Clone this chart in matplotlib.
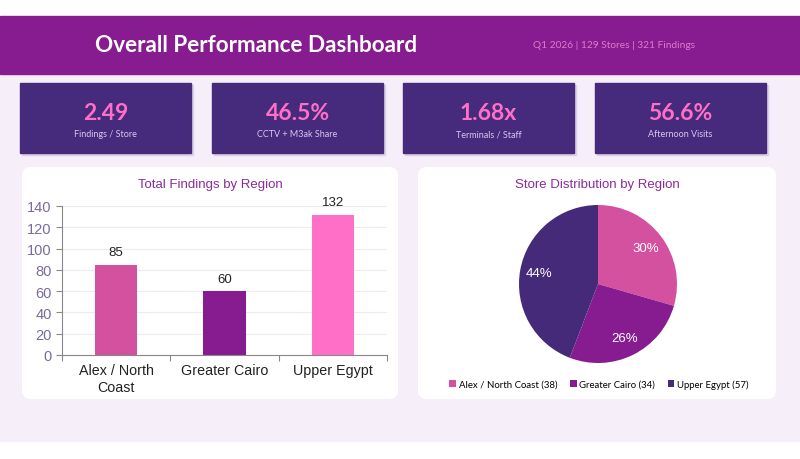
import matplotlib.pyplot as plt
from matplotlib.patches import FancyBboxPatch, Rectangle

regions = ['Alex / North\nCoast', 'Greater Cairo', 'Upper Egypt']
findings = [85, 60, 132]
pie_regions = ['Alex / North Coast', 'Greater Cairo', 'Upper Egypt']
stores = [38, 34, 57]
pie_pct_labels = ['30%', '26%', '44%']
kpi_values = ['2.49', '46.5%', '1.68x', '56.6%']
kpi_labels = ['Findings / Store', 'CCTV + M3ak Share', 'Terminals / Staff', 'Afternoon Visits']

region_colors = ['#d4519f', '#861c8f', '#ff6ec7']
pie_colors = ['#d4519f', '#861c8f', '#452a7a']

W, H = 800, 460
fig = plt.figure(figsize=(8, 4.6), dpi=100)
fig.patch.set_facecolor('white')

# background canvas in pixel coordinates
bg = fig.add_axes([0, 0, 1, 1])
bg.set_xlim(0, W)
bg.set_ylim(H, 0)
bg.axis('off')

bg.add_patch(Rectangle((0, 75), W, 367, color='#f6eef9', zorder=0))
bg.add_patch(Rectangle((0, 17), W, 58, color='#861c8f', zorder=1))
bg.text(256, 46, 'Overall Performance Dashboard', color='white', fontsize=16.2,
        fontweight='bold', family='Lato', ha='center', va='center')
bg.text(614, 46, 'Q1 2026 | 129 Stores | 321 Findings', color='#e07acb',
        fontsize=7.3, family='Lato', ha='center', va='center')

card_x = [20, 212, 403, 595]
for x, val, lab in zip(card_x, kpi_values, kpi_labels):
    bg.add_patch(Rectangle((x + 2, 86), 171, 70, color='#dccfe6', zorder=1))
    bg.add_patch(Rectangle((x, 84), 171, 70, color='#462a7b', zorder=2))
    bg.text(x + 85.5, 114, val, color='#ff6ec7', fontsize=16.5, fontweight='bold',
            family='Lato', ha='center', va='center', zorder=3)
    bg.text(x + 85.5, 135, lab, color='#d6c6f2', fontsize=6.5,
            family='Lato', ha='center', va='center', zorder=3)

for x0, w in [(22, 376), (418, 358)]:
    bg.add_patch(FancyBboxPatch((x0, 168), w, 232, boxstyle='round,pad=0,rounding_size=9',
                                fc='white', ec='none', zorder=1))

# bar chart
ax = fig.add_axes([62 / W, (H - 356) / H, 325 / W, 149 / H])
ax.bar(range(len(regions)), findings, width=0.39, color=region_colors, zorder=2)
for i, v in enumerate(findings):
    ax.text(i, v + 6, str(v), ha='center', va='bottom', fontsize=9.5,
            color='#222222', family='Liberation Sans')
ax.set_xlim(-0.5, 2.5)
ax.set_ylim(0, 140)
ax.set_yticks(range(0, 141, 20))
ax.set_xticks([-0.5, 0.5, 1.5, 2.5], minor=False)
ax.set_xticklabels([])
ax.set_xticks(range(3), minor=True)
ax.set_xticklabels(regions, minor=True, fontsize=10.3, color='#222222', family='Liberation Sans')
ax.tick_params(axis='x', which='minor', length=0, pad=6)
ax.tick_params(axis='x', which='major', length=4, color='#888888')
ax.tick_params(axis='y', labelsize=10.5, labelcolor='#7a6b98', length=4, color='#888888')
for t in ax.get_yticklabels():
    t.set_family('Liberation Sans')
ax.grid(axis='y', color='#eeeaf2', linewidth=0.8, zorder=0)
ax.set_facecolor('white')
for s in ['top', 'right']:
    ax.spines[s].set_visible(False)
ax.spines['left'].set_color('#888888')
ax.spines['bottom'].set_color('#888888')
bg.text(210, 185, 'Total Findings by Region', color='#8b2a9b', fontsize=9.5,
        family='Liberation Sans', ha='center', va='center')

# pie chart
r = 79
pax = fig.add_axes([(598 - r) / W, (H - 285 - r) / H, 2 * r / W, 2 * r / H])
pct_iter = iter(pie_pct_labels)
wedges, _, autotexts = pax.pie(stores, colors=pie_colors, startangle=90, counterclock=False,
                               autopct=lambda p: next(pct_iter), pctdistance=0.76,
                               textprops={'color': 'white', 'fontsize': 9.5, 'family': 'Liberation Sans'})
pax.set_xlim(-1, 1)
pax.set_ylim(-1, 1)
bg.text(597, 185, 'Store Distribution by Region', color='#8b2a9b', fontsize=9.5,
        family='Liberation Sans', ha='center', va='center')
leg_labels = [f'{n} ({s})' for n, s in zip(pie_regions, stores)]
fig.legend(wedges, leg_labels, loc='center', bbox_to_anchor=(599 / W, (H - 385) / H),
           ncol=3, frameon=False, handlelength=0.7, handleheight=0.7,
           handletextpad=0.3, columnspacing=1.3, prop={'family': 'Lato', 'size': 6.9})

fig.savefig('out.png', dpi=100)
